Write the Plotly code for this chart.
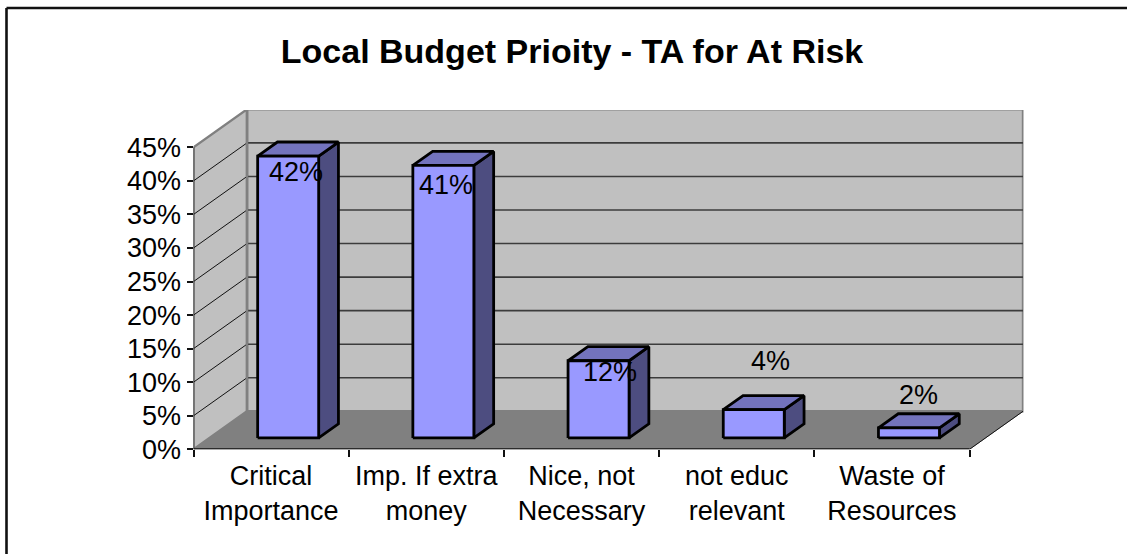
import plotly.graph_objects as go

title = "Local Budget Prioity - TA for At Risk"
categories = ["Critical<br>Importance", "Imp. If extra<br>money", "Nice, not<br>Necessary",
              "not educ<br>relevant", "Waste of<br>Resources"]
values = [42.0, 40.6, 11.5, 4.2, 1.5]
value_labels = ["42%", "41%", "12%", "4%", "2%"]
y_ticks = [0, 5, 10, 15, 20, 25, 30, 35, 40, 45]
y_tick_labels = ["0%", "5%", "10%", "15%", "20%", "25%", "30%", "35%", "40%", "45%"]

# Styling / projection
W, H = 1127, 554
LEFT, RIGHT, BOTTOM, TOP = 193.5, 1023.5, 449.3, 110.0
PX_CAT, PX_PCT = 155.2, 6.71
DEPTH_X, DEPTH_Y = 53.5 / PX_CAT, 38.0 / PX_PCT   # oblique offset of the full chart depth
N = len(categories)
BAR_W = 0.393
BAR_GAP = 0.31
DEPTH_FRONT, DEPTH_BACK = 0.30, 0.67
LABEL_SHIFT = [(8, -16), (3, -20), (11, -11), (17, 49), (10, 33)]
FONT = "Liberation Sans"


def p(x, v, d=0.0):
    return x + d * DEPTH_X, v + d * DEPTH_Y


def poly(pts, fill, line="black", width=2.8):
    xs, ys = zip(*(pts + pts[:1]))
    return go.Scatter(x=xs, y=ys, mode="lines", fill="toself", fillcolor=fill,
                      line=dict(color=line, width=width), hoverinfo="skip", showlegend=False)


def seg(a, b, color, width):
    return go.Scatter(x=[a[0], b[0]], y=[a[1], b[1]], mode="lines",
                      line=dict(color=color, width=width), hoverinfo="skip", showlegend=False)


fig = go.Figure()
TOPV = y_ticks[-1]
# walls and floor
fig.add_trace(poly([p(0, 0, 1), p(N, 0, 1), p(N, TOPV, 1), p(0, TOPV, 1)], "#C0C0C0", "#808080", 2.4))
fig.add_trace(poly([p(0, 0), p(0, 0, 1), p(0, TOPV, 1), p(0, TOPV)], "#C0C0C0", "#808080", 2.4))
fig.add_trace(poly([p(0, 0), p(N, 0), p(N, 0, 1), p(0, 0, 1)], "#808080", "#808080", 1))
# gridlines
for v in y_ticks[1:-1]:
    fig.add_trace(seg(p(0, v, 1), p(N, v, 1), "#3C3C3C", 1.6))
    fig.add_trace(seg(p(0, v), p(0, v, 1), "#111111", 1))
# wall edges, redrawn above the gridlines
fig.add_trace(seg(p(0, 0, 1), p(0, TOPV, 1), "#808080", 2.4))
fig.add_trace(seg(p(N, 0), p(N, 0, 1), "#111111", 1))
fig.add_trace(seg(p(0, 0), p(0, TOPV), "#333333", 1.6))
fig.add_trace(seg(p(0, 0), p(N, 0), "#111111", 2))

# bars
for i, v in enumerate(values):
    x0, x1 = i + BAR_GAP, i + BAR_GAP + BAR_W
    df, db = DEPTH_FRONT, DEPTH_BACK
    fig.add_trace(poly([p(x1, 0, df), p(x1, 0, db), p(x1, v, db), p(x1, v, df)], "#4D4D80"))
    fig.add_trace(poly([p(x0, v, df), p(x1, v, df), p(x1, v, db), p(x0, v, db)], "#7373BD"))
    fig.add_trace(poly([p(x0, 0, df), p(x1, 0, df), p(x1, v, df), p(x0, v, df)], "#9999FF"))

# value labels, anchored on the top front edge of each bar
for i, v in enumerate(values):
    ax, ay = p(i + BAR_GAP + BAR_W / 2, v, DEPTH_FRONT)
    sx, sy = LABEL_SHIFT[i]
    fig.add_annotation(x=ax, y=ay, text=value_labels[i], showarrow=False, xshift=sx, yshift=sy,
                       xanchor="center", yanchor="middle",
                       font=dict(family=FONT, size=27, color="black"))

# frame: only top and left edges are visible
frame = dict(type="line", xref="paper", yref="paper", line=dict(color="#111111", width=2.6))
fig.add_shape(x0=6.5 / W, x1=1, y0=1 - 8 / H, y1=1 - 8 / H, **frame)
fig.add_shape(x0=6.5 / W, x1=6.5 / W, y0=0, y1=1 - 8 / H, **frame)

fig.update_layout(
    template="none",
    width=W, height=H, margin=dict(l=0, r=0, t=0, b=0, pad=0, autoexpand=False),
    paper_bgcolor="white", plot_bgcolor="white", showlegend=False,
    font=dict(family=FONT, color="black"),
    title=dict(text=f"<b>{title}</b>", x=572 / W, xanchor="center", y=1 - 51 / H, yanchor="middle",
               font=dict(family=FONT, size=34, color="black")),
    xaxis=dict(domain=[LEFT / W, RIGHT / W], range=[0, (RIGHT - LEFT) / PX_CAT], automargin=False,
               tickmode="array", tickvals=[i + 0.5 for i in range(N)], ticktext=categories,
               ticks="", showgrid=False, zeroline=False, showline=False, ticklabelstandoff=8,
               tickfont=dict(family=FONT, size=27),
               minor=dict(tickmode="array", tickvals=list(range(N + 1)), ticks="outside",
                          ticklen=7, tickwidth=1.5, tickcolor="#111111", showgrid=False)),
    yaxis=dict(domain=[1 - BOTTOM / H, 1 - TOP / H], range=[0, (BOTTOM - TOP) / PX_PCT], automargin=False,
               tickmode="array", tickvals=y_ticks, ticktext=y_tick_labels,
               ticks="outside", ticklen=6, tickwidth=1.5, tickcolor="#111111",
               showgrid=False, zeroline=False, showline=False,
               tickfont=dict(family=FONT, size=27)),
)

fig.write_html("out.html", config=dict(displayModeBar=False, responsive=False),
               post_script="document.body.style.margin='0';document.body.style.overflow='hidden';")
